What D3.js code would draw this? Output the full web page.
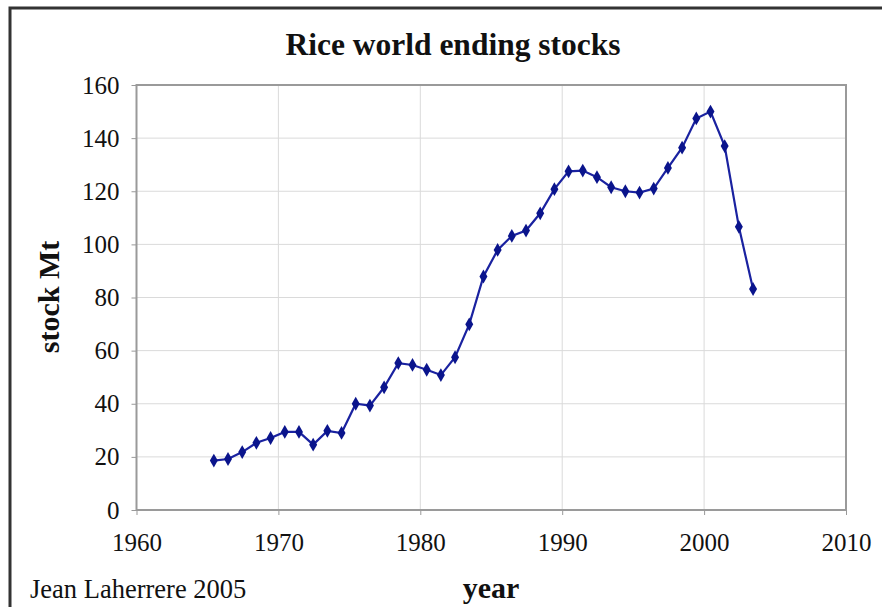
<!DOCTYPE html>
<html>
<head>
<meta charset="utf-8">
<script src="https://cdn.jsdelivr.net/npm/d3@7"></script>
<style>
  html, body { margin: 0; padding: 0; background: #fff; }
  svg { display: block; }
  text { font-family: "Liberation Serif", "Times New Roman", serif; fill: #111; }
</style>
</head>
<body>
<svg id="chart" width="882" height="607"></svg>
<script>
// ---- data ----
const years = [1965,1966,1967,1968,1969,1970,1971,1972,1973,1974,1975,1976,1977,1978,1979,
               1980,1981,1982,1983,1984,1985,1986,1987,1988,1989,1990,1991,1992,1993,1994,
               1995,1996,1997,1998,1999,2000,2001,2002,2003];
const stocks = [18.6,19.2,21.8,25.3,27.1,29.4,29.4,24.6,29.8,29.0,40.0,39.3,46.2,55.3,54.6,
                52.8,50.8,57.5,69.9,87.9,97.9,103.2,105.2,111.7,120.8,127.5,127.8,125.3,121.5,120.0,
                119.5,121.0,128.8,136.4,147.4,150.0,137.0,106.6,83.2];
const xTicks = [1960,1970,1980,1990,2000,2010];
const yTicks = [0,20,40,60,80,100,120,140,160];
const title = "Rice world ending stocks";
const xLabel = "year";
const yLabel = "stock Mt";
const credit = "Jean Laherrere 2005";

const svg = d3.select("#chart");

// outer frame
svg.append("path")
  .attr("d", "M10,620 L10,8 L900,8")
  .attr("fill", "none").attr("stroke", "#333").attr("stroke-width", 3);

const plot = {left: 136.5, right: 846, top: 85, bottom: 510};
const x = d3.scaleLinear().domain([1960, 2010]).range([plot.left, plot.right]);
const y = d3.scaleLinear().domain([0, 160]).range([plot.bottom, plot.top]);

// gridlines
svg.append("g").selectAll("line.h").data(yTicks.slice(1, -1)).join("line")
  .attr("x1", plot.left).attr("x2", plot.right)
  .attr("y1", d => y(d)).attr("y2", d => y(d))
  .attr("stroke", "#dadada").attr("stroke-width", 1);
svg.append("g").selectAll("line.v").data(xTicks.slice(1, -1)).join("line")
  .attr("y1", plot.top).attr("y2", plot.bottom)
  .attr("x1", d => x(d)).attr("x2", d => x(d))
  .attr("stroke", "#dadada").attr("stroke-width", 1);

// axes (ticks + labels)
const yAxis = svg.append("g").attr("transform", `translate(${plot.left},0)`)
  .call(d3.axisLeft(y).tickValues(yTicks).tickSize(5).tickPadding(12).tickFormat(d3.format("d")));
yAxis.select(".domain").remove();
yAxis.selectAll("line").attr("stroke", "#999");
yAxis.selectAll("text").style("font-size", "25px").attr("fill", "#111")
  .style("font-family", "'Liberation Serif', serif");

const xAxis = svg.append("g").attr("transform", `translate(0,${plot.bottom})`)
  .call(d3.axisBottom(x).tickValues(xTicks).tickSize(5).tickPadding(18).tickFormat(d3.format("d")));
xAxis.select(".domain").remove();
xAxis.selectAll("line").attr("stroke", "#999");
xAxis.selectAll("text").style("font-size", "25px").attr("fill", "#111")
  .style("font-family", "'Liberation Serif', serif");

// plot border
svg.append("rect")
  .attr("x", plot.left).attr("y", plot.top)
  .attr("width", plot.right - plot.left).attr("height", plot.bottom - plot.top)
  .attr("fill", "none").attr("stroke", "#9a9a9a").attr("stroke-width", 2);

// series
const data = years.map((yr, i) => ({yr, v: stocks[i]}));
const px = d => x(d.yr + 0.45);
svg.append("path").datum(data)
  .attr("d", d3.line().x(px).y(d => y(d.v)))
  .attr("fill", "none").attr("stroke", "#1a22a0").attr("stroke-width", 2.2);
svg.append("g").selectAll("path").data(data).join("path")
  .attr("transform", d => `translate(${px(d)},${y(d.v)})`)
  .attr("d", d3.symbol(d3.symbolDiamond, 55))
  .attr("fill", "#0a148c");

// texts
svg.append("text").attr("x", 453).attr("y", 55).attr("text-anchor", "middle")
  .style("font-size", "31.5px").style("font-weight", "bold").text(title);
svg.append("text").attr("transform", "translate(59,297) rotate(-90)").attr("text-anchor", "middle")
  .style("font-size", "30px").style("font-weight", "bold").text(yLabel);
svg.append("text").attr("x", 491).attr("y", 598).attr("text-anchor", "middle")
  .style("font-size", "30px").style("font-weight", "bold").text(xLabel);
svg.append("text").attr("x", 30).attr("y", 598)
  .style("font-size", "26.5px").text(credit);
</script>
</body>
</html>
